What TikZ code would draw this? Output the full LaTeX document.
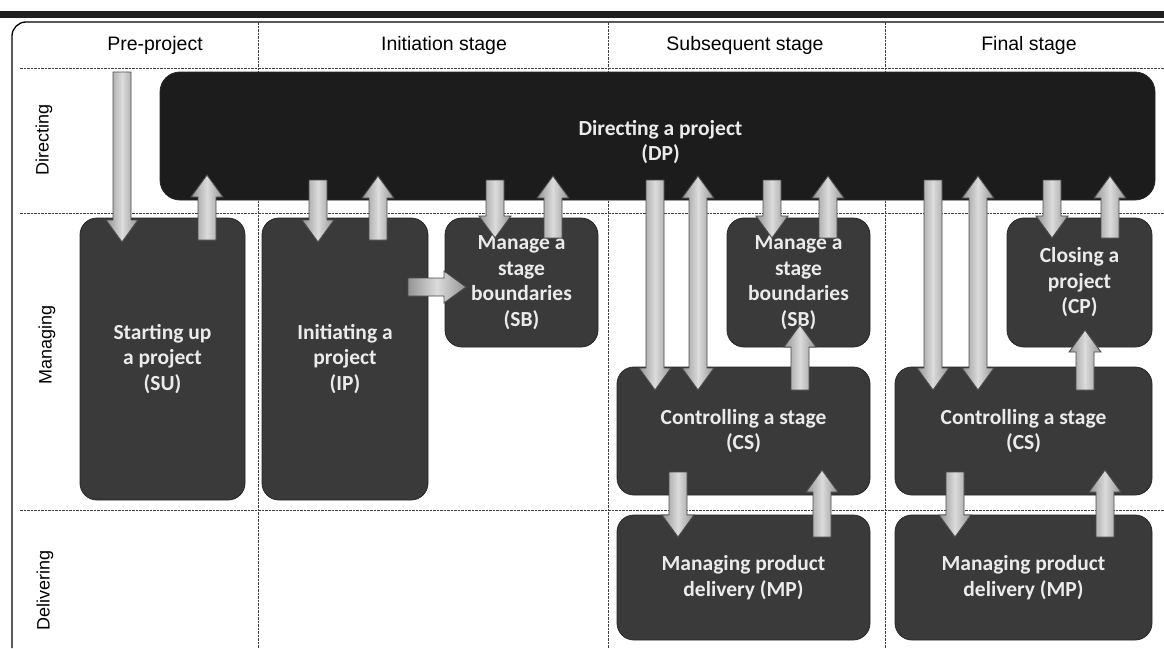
\documentclass[tikz,border=0pt]{standalone}
\usepackage{fontspec}
\setmainfont{Liberation Sans}
\newfontfamily\boxfont{Carlito}
\usetikzlibrary{calc}
\definecolor{boxgray}{HTML}{3A3A3A}
\definecolor{dpgray}{HTML}{1C1C1C}
\definecolor{arredge}{HTML}{4A4A4A}

\tikzset{
  proc/.style={draw=black!85, line width=0.8pt, fill=boxgray, rounded corners=17pt,
    text=white!92!black, font=\boxfont\bfseries\fontsize{21.5}{25.5}\selectfont, align=center, inner sep=0pt},
  proctext/.style={text=white!92!black, font=\boxfont\bfseries\fontsize{21.5}{25.5}\selectfont, align=center, inner sep=0pt},
  gridline/.style={draw=black!75, dash pattern=on 2.5pt off 1pt, line width=0.9pt},
  arr/.style={draw=arredge, line width=0.9pt, line join=miter,
    left color=black!42, right color=black!42, middle color=black!14},
  hdr/.style={font=\fontsize{19.5}{22}\selectfont},
  lane/.style={font=\fontsize{18}{22}\selectfont, rotate=90},
}

% single block arrow from #1 to #2
\newcommand{\blockarrow}[2]{%
  \path let \p1=(#1), \p2=(#2), \n1={atan2(\y2-\y1,\x2-\x1)}, \n2={veclen(\x2-\x1,\y2-\y1)} in
    \pgfextra{\xdef\BAang{\n1}\pgfmathsetmacro\BAlenA{\n2}\xdef\BAlen{\BAlenA}\xdef\BAx{\x1}\xdef\BAy{\y1}};
  \draw[arr, shift={(\BAx,\BAy)}, rotate=\BAang, x=1pt, y=1pt]
    (0,-9) -- ({\BAlen-22},-9) -- ({\BAlen-22},-16) -- (\BAlen,0) -- ({\BAlen-22},16)
    -- ({\BAlen-22},9) -- (0,9) -- cycle;
}
% double block arrow between #1 and #2
\newcommand{\dblockarrow}[2]{%
  \path let \p1=(#1), \p2=(#2), \n1={atan2(\y2-\y1,\x2-\x1)}, \n2={veclen(\x2-\x1,\y2-\y1)} in
    \pgfextra{\xdef\BAang{\n1}\pgfmathsetmacro\BAlenA{\n2}\xdef\BAlen{\BAlenA}\xdef\BAx{\x1}\xdef\BAy{\y1}};
  \draw[arr, shift={(\BAx,\BAy)}, rotate=\BAang, x=1pt, y=1pt]
    (0,0) -- (22,-16) -- (22,-9) -- ({\BAlen-22},-9) -- ({\BAlen-22},-16) -- (\BAlen,0)
    -- ({\BAlen-22},16) -- ({\BAlen-22},9) -- (22,9) -- (22,16) -- cycle;
}

\begin{document}
\begin{tikzpicture}[x=1pt,y=-1pt]
\useasboundingbox (0,0) rectangle (1164,648);
\fill[white] (0,0) rectangle (1164,648);

% top bar and frame
\fill[black!88] (0,11) rectangle (1164,18);
\draw[line width=1.3pt, rounded corners=14pt] (12,648) -- (12,22) -- (1164,22);

% grid
\draw[gridline] (20,68) -- (1164,68);
\draw[gridline] (20,213) -- (1164,213);
\draw[gridline] (20,510) -- (1164,510);
\draw[gridline] (258,22) -- (258,648);
\draw[gridline] (608,22) -- (608,648);
\draw[gridline] (885,22) -- (885,648);

% headers
\node[hdr] (h1) at (155,45) {Pre-project};
\node[hdr] (h2) at (444,45) {Initiation stage};
\node[hdr] (h3) at (745,45) {Subsequent stage};
\node[hdr] (h4) at (1029,45) {Final stage};

% lanes
\node[lane] (l1) at (44,140) {Directing};
\node[lane] (l2) at (47,345) {Managing};
\node[lane] (l3) at (45,590) {Delivering};

% processes
\node[proc, fill=dpgray, rounded corners=20pt, minimum width=995pt, minimum height=128pt] (DP) at (657.5,136) {};
\node[proctext] (DPt) at ($(DP.center)+(3,6)$) {Directing a project\\(DP)};
\node[proc, minimum width=165pt, minimum height=282pt] (SU) at (162.5,359) {Starting up\\a project\\(SU)};
\node[proc, minimum width=166pt, minimum height=282pt] (IP) at (345,359) {Initiating a\\project\\(IP)};
\node[proc, minimum width=153pt, minimum height=129pt] (SB1) at (521.5,282.5) {Manage a\\stage\\boundaries\\(SB)};
\node[proc, minimum width=143pt, minimum height=129pt] (SB2) at (798.5,282.5) {Manage a\\stage\\boundaries\\(SB)};
\node[proc, minimum width=145pt, minimum height=129pt] (CP) at (1079.5,282.5) {Closing a\\project\\(CP)};
\node[proc, minimum width=253pt, minimum height=128pt] (CS1) at (743.5,431) {Controlling a stage\\(CS)};
\node[proc, minimum width=257pt, minimum height=128pt] (CS2) at (1023.5,431) {Controlling a stage\\(CS)};
\node[proc, minimum width=253pt, minimum height=125pt] (MP1) at (743.5,577.5) {Managing product\\delivery (MP)};
\node[proc, minimum width=257pt, minimum height=125pt] (MP2) at (1023.5,577.5) {Managing product\\delivery (MP)};

% arrow end points
\coordinate (a1s) at (122,72);   \coordinate (a1e) at (122,242);
\coordinate (a2s) at (207,240);  \coordinate (a2e) at (207,175);
\coordinate (a3s) at (318,180);  \coordinate (a3e) at (318,242);
\coordinate (a4s) at (378,240);  \coordinate (a4e) at (378,176);
\coordinate (a5s) at (495,180);  \coordinate (a5e) at (495,238);
\coordinate (a6s) at (553,238);  \coordinate (a6e) at (553,176);
\coordinate (a7s) at (655,180);  \coordinate (a7e) at (655,390);
\coordinate (a8s) at (698,176);  \coordinate (a8e) at (698,390);
\coordinate (a9s) at (772,180);  \coordinate (a9e) at (772,238);
\coordinate (a10s) at (828,238); \coordinate (a10e) at (828,176);
\coordinate (a11s) at (933,180); \coordinate (a11e) at (933,390);
\coordinate (a12s) at (978,176); \coordinate (a12e) at (978,390);
\coordinate (a13s) at (1052,180); \coordinate (a13e) at (1052,238);
\coordinate (a14s) at (1110,238); \coordinate (a14e) at (1110,176);
\coordinate (b1s) at (408,287);  \coordinate (b1e) at (466,287);
\coordinate (b2s) at (800,390);  \coordinate (b2e) at (800,325);
\coordinate (b3s) at (1085,390); \coordinate (b3e) at (1085,330);
\coordinate (c1s) at (678,472);  \coordinate (c1e) at (678,537);
\coordinate (c2s) at (822,537);  \coordinate (c2e) at (822,470);
\coordinate (c3s) at (955,472);  \coordinate (c3e) at (955,537);
\coordinate (c4s) at (1105,537); \coordinate (c4e) at (1105,470);

\blockarrow{a1s}{a1e}
\blockarrow{a2s}{a2e}
\blockarrow{a3s}{a3e}
\blockarrow{a4s}{a4e}
\blockarrow{a5s}{a5e}
\blockarrow{a6s}{a6e}
\blockarrow{a7s}{a7e}
\dblockarrow{a8s}{a8e}
\blockarrow{a9s}{a9e}
\blockarrow{a10s}{a10e}
\blockarrow{a11s}{a11e}
\dblockarrow{a12s}{a12e}
\blockarrow{a13s}{a13e}
\blockarrow{a14s}{a14e}
\blockarrow{b1s}{b1e}
\blockarrow{b2s}{b2e}
\blockarrow{b3s}{b3e}
\blockarrow{c1s}{c1e}
\blockarrow{c2s}{c2e}
\blockarrow{c3s}{c3e}
\blockarrow{c4s}{c4e}
\end{tikzpicture}
\end{document}
